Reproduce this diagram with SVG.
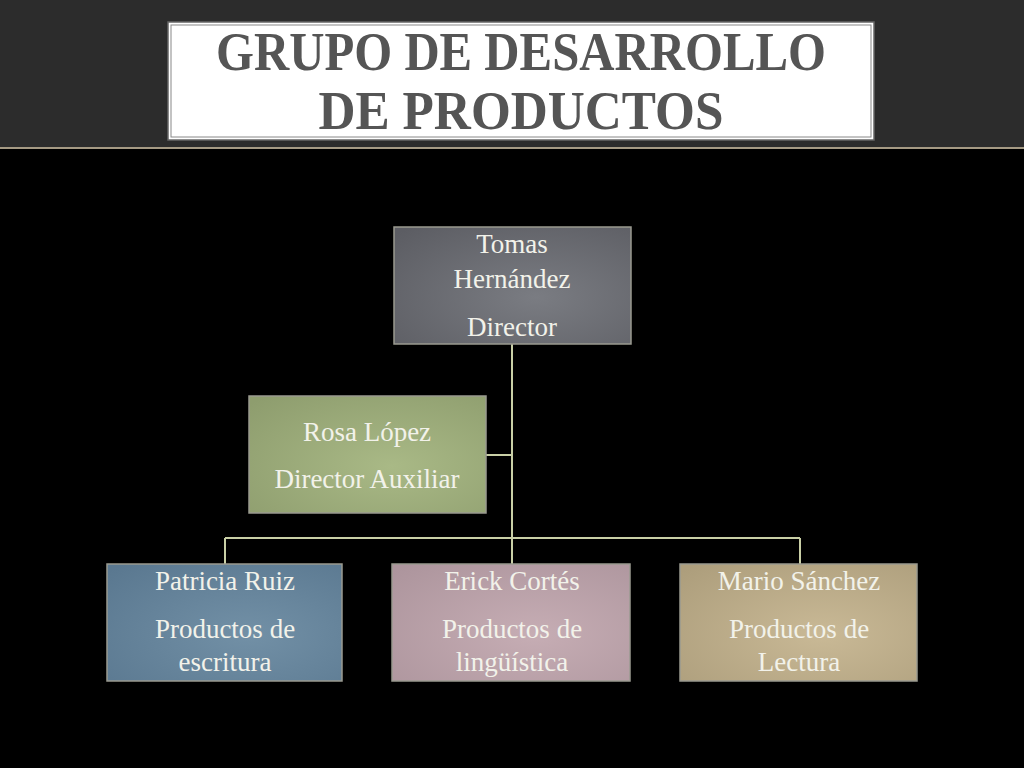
<svg xmlns="http://www.w3.org/2000/svg" width="1024" height="768" viewBox="0 0 1024 768">
<defs>
<style>
.n text{font-family:"Liberation Serif",serif;font-size:27px;fill:#f2f2ea;text-anchor:middle}
.n rect{stroke:#9a9a90;stroke-width:1.5}
.c{stroke:#c9cfa6;stroke-width:2;fill:none}
</style>
<radialGradient id="g1" cx="0.6" cy="0.6" r="0.8"><stop offset="0" stop-color="#7a7c82"/><stop offset="1" stop-color="#5c5d63"/></radialGradient>
<radialGradient id="g2" cx="0.6" cy="0.6" r="0.8"><stop offset="0" stop-color="#a9b986"/><stop offset="1" stop-color="#8e9d6e"/></radialGradient>
<radialGradient id="g3" cx="0.6" cy="0.6" r="0.8"><stop offset="0" stop-color="#7290a6"/><stop offset="1" stop-color="#5a7890"/></radialGradient>
<radialGradient id="g4" cx="0.6" cy="0.6" r="0.8"><stop offset="0" stop-color="#c6adb4"/><stop offset="1" stop-color="#ad959d"/></radialGradient>
<radialGradient id="g5" cx="0.6" cy="0.6" r="0.8"><stop offset="0" stop-color="#c9b996"/><stop offset="1" stop-color="#ad9e7c"/></radialGradient>
</defs>
<rect width="1024" height="768" fill="#000"/>
<rect width="1024" height="148" fill="#2c2c2c"/>
<rect y="147" width="1024" height="2" fill="#a59a84"/>
<g id="title">
<rect x="168" y="22" width="706" height="118" fill="#fff" stroke="#666" stroke-width="1.5"/>
<rect x="171" y="25" width="700" height="112" fill="none" stroke="#888" stroke-width="1"/>
<text font-family="Liberation Serif,serif" font-weight="bold" font-size="54" fill="#555" text-anchor="middle" textLength="610" lengthAdjust="spacingAndGlyphs" x="521" y="70">GRUPO DE DESARROLLO</text>
<text font-family="Liberation Serif,serif" font-weight="bold" font-size="54" fill="#555" text-anchor="middle" textLength="405" lengthAdjust="spacingAndGlyphs" x="521" y="129">DE PRODUCTOS</text>
</g>
<g id="connectors">
<path class="c" d="M512 344V564M486 455H512M225 538H800M225 538V564M800 538V564"/>
</g>
<g id="tomas" class="n"><rect x="394" y="227" width="237" height="117" fill="url(#g1)"/>
<text x="512" y="253">Tomas</text><text x="512" y="288">Hernández</text><text x="512" y="336">Director</text></g>
<g id="rosa" class="n"><rect x="249" y="396" width="237" height="117" fill="url(#g2)"/>
<text x="367" y="441">Rosa López</text><text x="367" y="488">Director Auxiliar</text></g>
<g id="patricia" class="n"><rect x="107" y="564" width="235" height="117" fill="url(#g3)"/>
<text x="225" y="590">Patricia Ruiz</text><text x="225" y="638">Productos de</text><text x="225" y="671">escritura</text></g>
<g id="erick" class="n"><rect x="392" y="564" width="238" height="117" fill="url(#g4)"/>
<text x="512" y="590">Erick Cortés</text><text x="512" y="638">Productos de</text><text x="512" y="671">lingüística</text></g>
<g id="mario" class="n"><rect x="680" y="564" width="237" height="117" fill="url(#g5)"/>
<text x="799" y="590">Mario Sánchez</text><text x="799" y="638">Productos de</text><text x="799" y="671">Lectura</text></g>
</svg>
